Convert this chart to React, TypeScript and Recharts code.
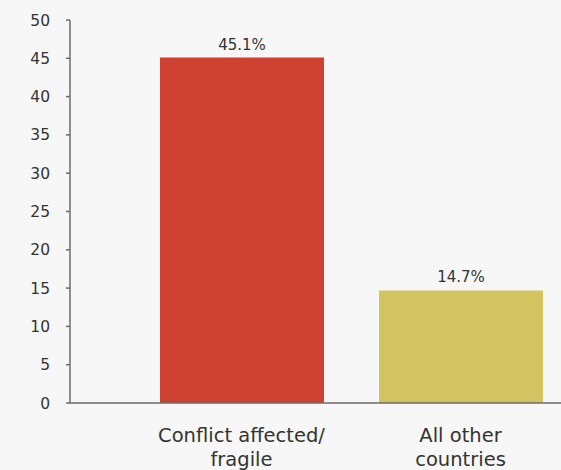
import React from "react";
import { BarChart, Bar, XAxis, YAxis, Cell, LabelList } from "recharts";

const categories = ["Conflict affected/\nfragile", "All other\ncountries"];
const shares = [45.1, 14.7];
const barColors = ["#cf4232", "#d4c461"];
const yTicks = [0, 5, 10, 15, 20, 25, 30, 35, 40, 45, 50];

const data = categories.map((name, i) => ({ name, value: shares[i] }));

const FONT = "'DejaVu Sans', Verdana, sans-serif";

const CategoryTick = (props: any) => {
  const { x, y, payload } = props;
  const lines = String(payload.value).split("\n");
  return (
    <text x={x} y={y + 31} textAnchor="middle" fill="#333" fontSize={19.5} fontFamily={FONT}>
      {lines.map((l, i) => (
        <tspan key={i} x={x} dy={i === 0 ? 0 : 24}>
          {l}
        </tspan>
      ))}
    </text>
  );
};

export default function App() {
  return (
    <div style={{ position: "absolute", left: 0, top: 0, width: 561, height: 470, overflow: "hidden", background: "#f7f7f7" }}>
      <BarChart width={570} height={470} data={data} margin={{ top: 20, right: 0, bottom: 0, left: 0 }}>
        <XAxis
          dataKey="name"
          height={67}
          tickLine={false}
          axisLine={{ stroke: "#6b6b6b", strokeWidth: 1.5 }}
          tick={<CategoryTick />}
          padding={{ left: 62, right: 0 }}
          interval={0}
        />
        <YAxis
          width={70}
          domain={[0, 50]}
          ticks={yTicks}
          tickSize={4}
          tickMargin={16}
          axisLine={{ stroke: "#6b6b6b", strokeWidth: 1.5 }}
          tickLine={{ stroke: "#6b6b6b", strokeWidth: 1.5 }}
          tick={{ fill: "#333", fontSize: 15.5, fontFamily: FONT }}
        />
        <Bar dataKey="value" barSize={164} isAnimationActive={false}>
          {data.map((d, i) => (
            <Cell key={d.name} fill={barColors[i]} />
          ))}
          <LabelList
            dataKey="value"
            position="top"
            offset={8}
            formatter={(v: any) => `${v}%`}
            style={{ fill: "#333", fontSize: 15, fontFamily: FONT }}
          />
        </Bar>
      </BarChart>
    </div>
  );
}
